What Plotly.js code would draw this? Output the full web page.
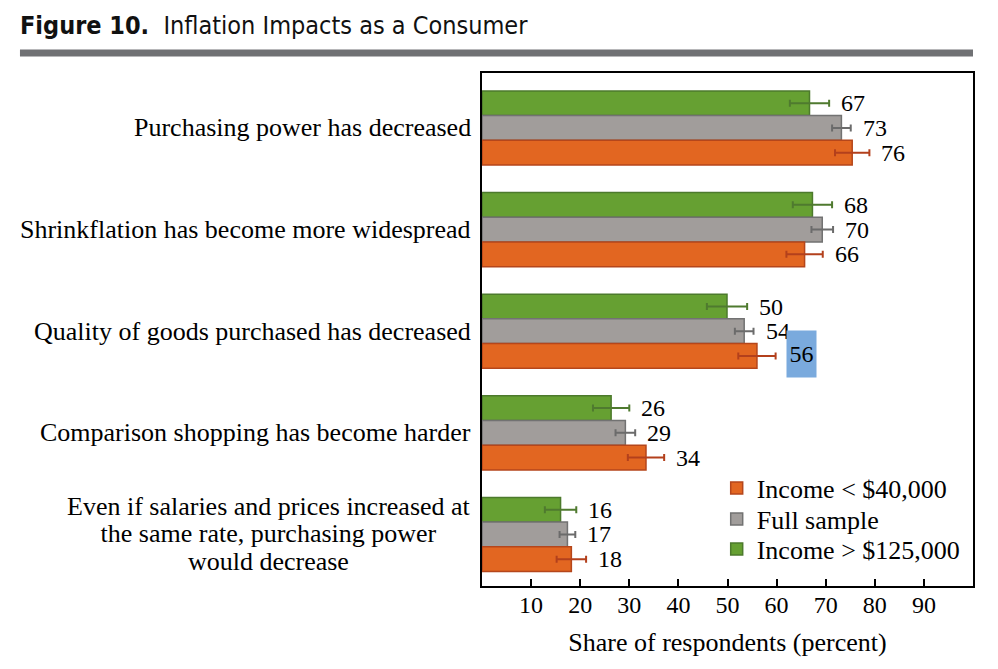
<!DOCTYPE html>
<html>
<head>
<meta charset="utf-8">
<script src="https://cdn.plot.ly/plotly-3.0.1.min.js"></script>
<style>
  html, body { margin: 0; padding: 0; background: #fff; }
  #chart { width: 998px; height: 669px; }
</style>
</head>
<body>
<div id="chart"></div>
<script>
// ─── Data ───
const categories = [
  "Purchasing power has decreased",
  "Shrinkflation has become more widespread",
  "Quality of goods purchased has decreased",
  "Comparison shopping has become harder",
  "Even if salaries and prices increased at<br>the same rate, purchasing power<br>would decrease",
];

const seriesNames = ["Income > $125,000", "Full sample", "Income < $40,000"];

const highIncome = [66.7, 67.3, 49.9, 26.3, 16.0];
const highIncomeErr = [4.0, 4.0, 4.1, 3.7, 3.2];
const highIncomeLabels = ["67", "68", "50", "26", "16"];

const fullSample = [73.2, 69.3, 53.4, 29.2, 17.4];
const fullSampleErr = [1.9, 2.2, 1.9, 2.0, 1.6];
const fullSampleLabels = ["73", "70", "54", "29", "17"];

const lowIncome = [75.4, 65.7, 56.0, 33.4, 18.2];
const lowIncomeErr = [3.5, 3.7, 3.8, 3.7, 3.0];
const lowIncomeLabels = ["76", "66", "56", "34", "18"];

const xTicks = [10, 20, 30, 40, 50, 60, 70, 80, 90];

// ─── Styling ───
const serif = "Liberation Serif, Times New Roman, serif";
const styles = [
  { fill: "#66a032", line: "#4c7a2c", err: "#4f7a2f", legend: "legend3", ly: 0.0721 },
  { fill: "#a19d9b", line: "#727272", err: "#6b6b6b", legend: "legend2", ly: 0.1306 },
  { fill: "#e26621", line: "#b5461b", err: "#b3401c", legend: "legend", ly: 0.191 },
];
const bargap = 0.27;
const barStep = (1 - bargap) / 3;

const series = [
  { name: seriesNames[0], v: highIncome, e: highIncomeErr, t: highIncomeLabels },
  { name: seriesNames[1], v: fullSample, e: fullSampleErr, t: fullSampleLabels },
  { name: seriesNames[2], v: lowIncome, e: lowIncomeErr, t: lowIncomeLabels },
];

const traces = series.map((s, k) => ({
  type: "bar",
  orientation: "h",
  name: s.name,
  legend: styles[k].legend,
  x: s.v,
  y: categories,
  marker: { color: styles[k].fill, line: { color: styles[k].line, width: 1.5 } },
  error_x: {
    type: "data",
    array: s.e,
    visible: true,
    color: styles[k].err,
    thickness: 2,
    width: 3.5,
  },
  hoverinfo: "x",
}));

// value labels, placed just past the error bar
const annotations = [];
series.forEach((s, k) => {
  s.v.forEach((v, i) => {
    const a = {
      x: v + s.e[i],
      y: i + (k - 1) * barStep,
      xref: "x",
      yref: "y",
      text: s.t[i],
      showarrow: false,
      xanchor: "left",
      xshift: 10,
      font: { family: serif, size: 24, color: "#000" },
    };
    // selected-text highlight seen on one label in the source
    if (k === 2 && i === 2) {
      Object.assign(a, { bgcolor: "#7aaadd", width: 27, height: 44, yshift: 2 });
    }
    annotations.push(a);
  });
});

// category labels: small base size keeps the line pitch tight,
// the span sets the glyph size
categories.forEach((c, i) => {
  const txt = c.split("<br>")
    .map((line) => '<span style="font-size:26px">' + line + "</span>")
    .join("<br>");
  annotations.push({
    x: 0,
    y: i,
    xref: "paper",
    yref: "y",
    text: txt,
    showarrow: false,
    xanchor: "right",
    align: "center",
    xshift: -9,
    font: { family: serif, size: 21, color: "#000" },
  });
});

const legendBase = {
  x: 0.478,
  xanchor: "left",
  yanchor: "middle",
  bgcolor: "rgba(0,0,0,0)",
  font: { family: serif, size: 26, color: "#000" },
};

const layout = {
  width: 998,
  height: 669,
  margin: { l: 482, r: 25, t: 73, b: 83 },
  paper_bgcolor: "#fff",
  plot_bgcolor: "#fff",
  title: {
    text: "<b>Figure 10.</b>&nbsp;&nbsp;Inflation Impacts as a Consumer",
    font: { family: "Liberation Sans Narrow, DejaVu Sans Condensed, Arial Narrow, sans-serif", size: 25, color: "#111" },
    x: 0.02,
    xref: "container",
    xanchor: "left",
    y: 0.962,
    yref: "container",
    yanchor: "middle",
  },
  barmode: "group",
  bargap: bargap,
  bargroupgap: 0,
  xaxis: {
    range: [0, 100],
    tickvals: xTicks,
    ticks: "inside",
    ticklen: 7,
    tickwidth: 2,
    tickcolor: "#000",
    showline: true,
    mirror: true,
    linewidth: 2,
    linecolor: "#000",
    showgrid: false,
    zeroline: false,
    ticklabelstandoff: -4,
    tickfont: { family: serif, size: 24, color: "#000" },
    title: {
      text: "Share of respondents (percent)",
      font: { family: serif, size: 26, color: "#000" },
      standoff: 16,
    },
  },
  yaxis: {
    type: "category",
    categoryorder: "array",
    categoryarray: categories,
    range: [4.507, -0.541],
    showticklabels: false,
    ticks: "",
    showline: true,
    mirror: true,
    linewidth: 2,
    linecolor: "#000",
    showgrid: false,
    zeroline: false,
  },
  legend: Object.assign({}, legendBase, { y: styles[2].ly }),
  legend2: Object.assign({}, legendBase, { y: styles[1].ly }),
  legend3: Object.assign({}, legendBase, { y: styles[0].ly }),
  shapes: [
    {
      type: "line",
      xref: "paper",
      yref: "paper",
      x0: -0.941,
      x1: 1.0,
      y0: 1.039,
      y1: 1.039,
      line: { color: "#707174", width: 7 },
    },
  ],
  annotations: annotations,
  showlegend: true,
};

Plotly.newPlot("chart", traces, layout, { displayModeBar: false, staticPlot: true });
</script>
</body>
</html>
